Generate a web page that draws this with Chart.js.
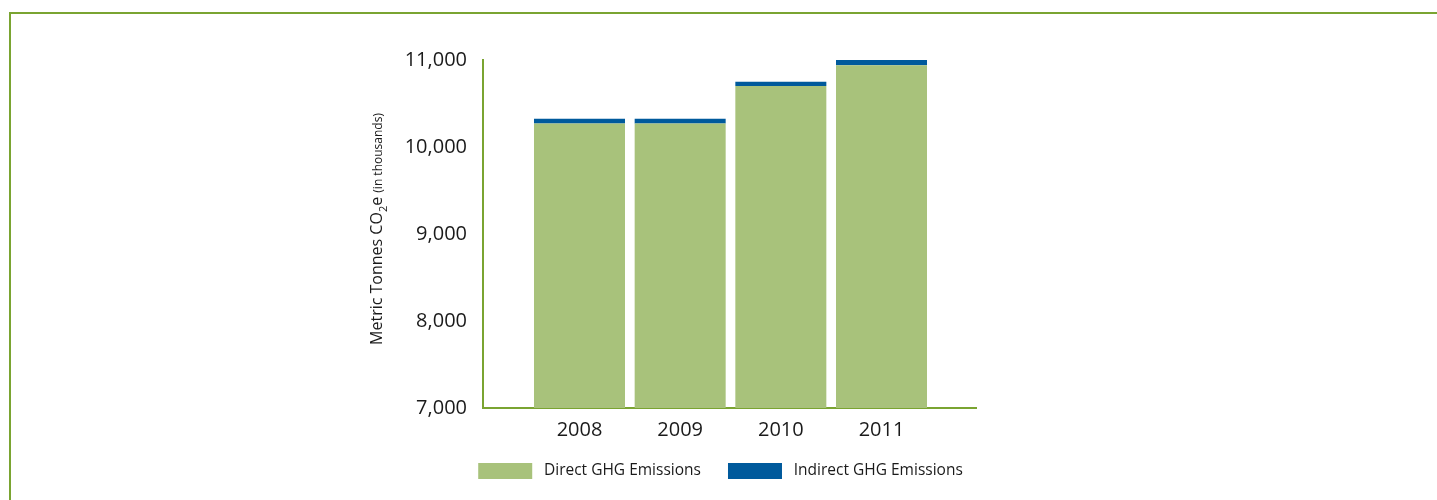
<!DOCTYPE html>
<html>
<head>
<meta charset="utf-8">
<script src="https://cdn.jsdelivr.net/npm/chart.js@4/dist/chart.umd.min.js"></script>
<style>
  html, body { margin: 0; padding: 0; background: #fff; overflow: hidden; }
  .frame {
    position: absolute; left: 9px; top: 12px; width: 1500px; height: 600px;
    border-top: 2px solid #7aa431; border-left: 2px solid #7aa431;
  }
  .wrap { position: absolute; left: 230px; top: 40px; width: 980px; height: 455px; }
</style>
</head>
<body>
<div class="frame"></div>
<div class="wrap"><canvas id="ghgChart"></canvas></div>
<script>
// chart data
const years = ['2008', '2009', '2010', '2011'];
const directGHG = [10270, 10270, 10700, 10940];
const indirectGHG = [55, 55, 50, 60];
const yTicks = [7000, 8000, 9000, 10000, 11000];

const green = '#a8c27b';
const blue = '#005a9c';
const axisGreen = '#7aa431';
const fontFamily = '"Open Sans", Lato, sans-serif';

// y axis title with subscript and smaller "(in thousands)"
const yTitlePlugin = {
    id: 'yTitle',
    afterDraw(chart) {
        const ctx = chart.ctx;
        const area = chart.chartArea;
        const parts = [
            { text: 'Metric Tonnes CO', size: 16, shift: 0 },
            { text: '2', size: 11, shift: 5 },
            { text: 'e ', size: 16, shift: 0 },
            { text: '(in thousands)', size: 12, shift: 0 }
        ];
        ctx.save();
        let total = 0;
        parts.forEach(p => {
            ctx.font = p.size + 'px ' + fontFamily;
            p.w = ctx.measureText(p.text).width;
            total += p.w;
        });
        ctx.translate(area.left - 101, (area.top + area.bottom) / 2 - 5);
        ctx.rotate(-Math.PI / 2);
        ctx.fillStyle = '#1a1a1a';
        ctx.textBaseline = 'alphabetic';
        let x = -total / 2;
        parts.forEach(p => {
            ctx.font = p.size + 'px ' + fontFamily;
            ctx.fillText(p.text, x, p.shift);
            x += p.w;
        });
        ctx.restore();
    }
};

// legend sits a bit left of the plot centre, not under the padded area
const legendShift = {
    id: 'legendShift',
    afterLayout(chart) {
        const lg = chart.legend;
        const dx = 490.5 - (lg.left + lg.right) / 2;
        lg.left += dx;
        lg.right += dx;
    }
};

document.addEventListener('DOMContentLoaded', function() {
    const ctx = document.getElementById('ghgChart').getContext('2d');
    new Chart(ctx, {
        type: 'bar',
        data: {
            datasets: [
                {
                    label: 'Direct GHG Emissions',
                    data: years.map((y, i) => ({ x: i + 1, y: directGHG[i] })),
                    backgroundColor: green
                },
                {
                    label: 'Indirect GHG Emissions',
                    data: years.map((y, i) => ({ x: i + 1, y: indirectGHG[i] })),
                    backgroundColor: blue
                }
            ]
        },
        options: {
            responsive: true,
            maintainAspectRatio: false,
            animation: false,
            borderWidth: 0,
            barPercentage: 0.904,
            categoryPercentage: 1,
            layout: {
                padding: { top: 4, right: 234, left: 0, bottom: 6 }
            },
            scales: {
                x: {
                    type: 'linear',
                    stacked: true,
                    offset: false,
                    min: 0.0414,
                    max: 4.9387,
                    grid: { display: false },
                    border: { color: axisGreen, width: 2 },
                    afterBuildTicks: s => { s.ticks = years.map((y, i) => ({ value: i + 1 })); },
                    ticks: {
                        padding: 2,
                        color: '#1a1a1a',
                        font: { family: fontFamily, size: 20 },
                        callback: v => years[v - 1]
                    }
                },
                y: {
                    stacked: true,
                    min: 7000,
                    max: 11000,
                    grid: { display: false },
                    border: { color: axisGreen, width: 2 },
                    afterFit: s => { s.width = 253; },
                    afterBuildTicks: s => { s.ticks = yTicks.map(v => ({ value: v })); },
                    ticks: {
                        padding: 8,
                        color: '#1a1a1a',
                        font: { family: fontFamily, size: 20 },
                        callback: v => v.toLocaleString('en-US')
                    }
                }
            },
            plugins: {
                legend: {
                    position: 'bottom',
                    labels: {
                        boxWidth: 54,
                        boxHeight: 16,
                        padding: 19,
                        color: '#1a1a1a',
                        font: { family: fontFamily, size: 15.5 },
                        // widen the gaps around the legend text with spaces
                        generateLabels: chart => {
                            const items = Chart.defaults.plugins.legend.labels.generateLabels(chart);
                            items.forEach((it, i) => {
                                it.text = ' ' + it.text + (i < items.length - 1 ? '  ' : '');
                                it.lineWidth = 0;
                            });
                            return items;
                        }
                    }
                },
                tooltip: { enabled: false }
            }
        },
        plugins: [yTitlePlugin, legendShift]
    });
});
</script>
</body>
</html>
